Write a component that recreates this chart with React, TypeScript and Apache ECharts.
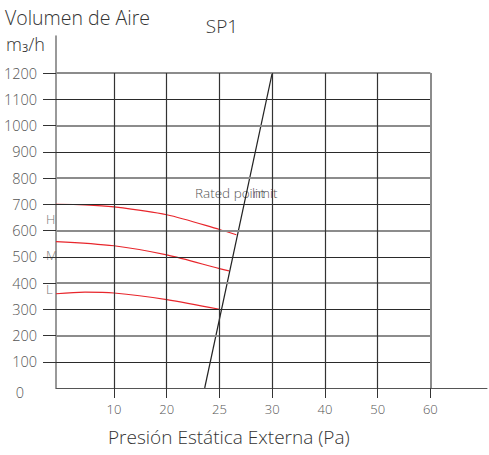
import React, { useEffect, useRef } from "react";
import * as echarts from "echarts";

// X axis: non-linear tick spacing (Pa); ticks are equally spaced on screen
const xTickPa = [0, 10, 20, 25, 30, 40, 50, 60];
const xTickPos = [-0.1, 1, 2, 3, 4, 5, 6, 7];
const xTickLabels = ["", "10", "20", "25", "30", "40", "50", "60"];
const yTicks = [0, 100, 200, 300, 400, 500, 600, 700, 800, 900, 1000, 1100, 1200];

// Curves: [Pa, m3/h]
const curveH = [[0, 700], [5, 698], [10, 690], [20, 660], [25, 604], [26.6, 584]];
const curveM = [[0, 558], [10, 542], [20, 507], [25, 455], [25.9, 446]];
const curveL = [[0, 359], [5, 365], [10, 362], [20, 337], [25, 300]];
const ratedLine = [[23.6, 0], [30, 1200]];

const FONT = "'Open Sans', 'DejaVu Sans', sans-serif";

function toPos(pa: number): number {
  for (let i = 0; i < xTickPa.length - 1; i++) {
    if (pa <= xTickPa[i + 1]) {
      const t = (pa - xTickPa[i]) / (xTickPa[i + 1] - xTickPa[i]);
      return xTickPos[i] + t * (xTickPos[i + 1] - xTickPos[i]);
    }
  }
  return xTickPos[xTickPos.length - 1];
}

const mapCurve = (c: number[][]) => c.map(([p, v]) => [toPos(p), v]);

export default function App() {
  const ref = useRef<HTMLDivElement>(null);
  useEffect(() => {
    document.body.style.margin = "0";
    if (!ref.current) return;
    const chart = echarts.init(ref.current, null, { renderer: "svg" });
    const xMin = toPos(0);
    const xLast = xTickPos[xTickPos.length - 1];
    const yTop = yTicks[yTicks.length - 1];
    const gridLines: any[] = [];
    yTicks.slice(1).forEach((v) => {
      const even = (v / 100) % 2 === 0;
      gridLines.push([
        {
          coord: [xMin, v],
          lineStyle: even ? { color: "#8c8c8c", width: 2 } : { color: "#2a2a2a", width: 1 },
        },
        { coord: [xLast, v] },
      ]);
    });
    xTickPos.slice(1).forEach((p, i, arr) => {
      const last = i === arr.length - 1;
      gridLines.push([
        {
          coord: [p, 0],
          lineStyle: last ? { color: "#8c8c8c", width: 2 } : { color: "#333", width: 1.2 },
        },
        { coord: [p, yTop] },
      ]);
    });
    const red = "#e8262c";
    const option: any = {
      animation: false,
      grid: {
        left: 56,
        right: 2,
        top: 36,
        bottom: 67,
        containLabel: false,
        outerBoundsMode: "none",
      },
      xAxis: {
        type: "value",
        min: xMin,
        max: 8.074,
        axisLine: { show: true, onZero: false, lineStyle: { color: "#555", width: 1 } },
        axisTick: {
          show: true,
          customValues: xTickPos.slice(1),
          length: 10,
          lineStyle: { color: "#333", width: 1 },
        },
        axisLabel: {
          show: true,
          customValues: xTickPos.slice(1),
          margin: 14,
          fontSize: 13,
          fontFamily: FONT,
          fontWeight: 300,
          color: "#555",
          formatter: (v: number) => {
            const i = xTickPos.findIndex((p) => Math.abs(p - v) < 1e-6);
            return i >= 0 ? xTickLabels[i] : "";
          },
        },
        splitLine: { show: false },
      },
      yAxis: {
        type: "value",
        min: 0,
        max: 1341,
        axisLine: { show: true, onZero: false, lineStyle: { color: "#777", width: 1.5 } },
        axisTick: {
          show: true,
          customValues: yTicks.slice(1),
          length: 13,
          lineStyle: { color: "#333", width: 1 },
        },
        axisLabel: {
          show: true,
          customValues: yTicks,
          margin: 19,
          fontSize: 14.5,
          fontFamily: FONT,
          fontWeight: 300,
          color: "#555",
          formatter: (v: number) => (v === 0 ? "{z|0}" : String(v)),
          rich: {
            z: { fontSize: 14.5, fontFamily: FONT, fontWeight: 300, color: "#555", padding: [8, 13, 0, 0] },
          },
        },
        splitLine: { show: false },
      },
      series: [
        {
          type: "line",
          data: [],
          silent: true,
          markLine: {
            silent: true,
            symbol: ["none", "none"],
            label: { show: false },
            lineStyle: { color: "#333", width: 1, type: "solid" },
            data: gridLines,
          },
        },
        {
          name: "H",
          type: "line",
          data: mapCurve(curveH),
          smooth: 0.3,
          showSymbol: false,
          lineStyle: { color: red, width: 1.2 },
        },
        {
          name: "M",
          type: "line",
          data: mapCurve(curveM),
          smooth: 0.3,
          showSymbol: false,
          lineStyle: { color: red, width: 1.2 },
        },
        {
          name: "L",
          type: "line",
          data: mapCurve(curveL),
          smooth: 0.3,
          showSymbol: false,
          lineStyle: { color: red, width: 1.2 },
        },
        {
          name: "Rated",
          type: "line",
          data: mapCurve(ratedLine),
          showSymbol: false,
          lineStyle: { color: "#222", width: 1.2 },
        },
      ],
      graphic: [
        {
          type: "text",
          x: 5,
          y: 17,
          style: { text: "Volumen de Aire", fontSize: 19.5, fontFamily: FONT, fontWeight: 300, fill: "#333", verticalAlign: "middle" },
        },
        {
          type: "text",
          x: 6,
          y: 44,
          style: {
            text: "m{s|3}/h",
            fontSize: 18,
            fontFamily: FONT,
            fontWeight: 300,
            fill: "#333",
            verticalAlign: "middle",
            rich: { s: { fontSize: 11, fontFamily: FONT, fill: "#333", padding: [6, 0, 0, 0] } },
          },
        },
        {
          type: "text",
          x: 222,
          y: 26,
          style: { text: "SP1", fontSize: 19, fontFamily: FONT, fontWeight: 300, fill: "#333", align: "center", verticalAlign: "middle" },
        },
        {
          type: "text",
          x: 108,
          y: 437,
          style: { text: "Presión Estática Externa (Pa)", fontSize: 19, fontFamily: FONT, fontWeight: 300, fill: "#333", verticalAlign: "middle" },
        },
        {
          type: "text",
          x: 195,
          y: 193,
          style: { text: "Rated point", fontSize: 13.5, fontFamily: FONT, fontWeight: 300, fill: "#555", verticalAlign: "middle" },
        },
        {
          type: "text",
          x: 252,
          y: 193,
          style: { text: "limit", fontSize: 13.5, fontFamily: FONT, fontWeight: 300, fill: "#555", verticalAlign: "middle" },
        },
        { type: "text", x: 46, y: 219, style: { text: "H", fontSize: 13, fontFamily: FONT, fontWeight: 300, fill: "#777", verticalAlign: "middle" } },
        { type: "text", x: 46, y: 255, style: { text: "M", fontSize: 13, fontFamily: FONT, fontWeight: 300, fill: "#777", verticalAlign: "middle" } },
        { type: "text", x: 46, y: 289, style: { text: "L", fontSize: 13, fontFamily: FONT, fontWeight: 300, fill: "#777", verticalAlign: "middle" } },
      ],
    };
    chart.setOption(option);
    return () => chart.dispose();
  }, []);
  return <div ref={ref} style={{ width: 489, height: 455 }} />;
}
